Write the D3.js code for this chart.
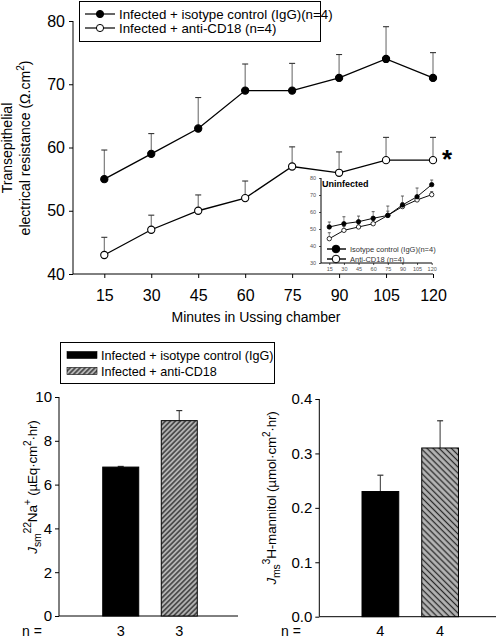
<!DOCTYPE html>
<html><head><meta charset="utf-8">
<script src="https://cdn.jsdelivr.net/npm/d3@7"></script>
<style>
html,body{margin:0;padding:0;background:#fff;}
svg{display:block;font-family:Arial,"Liberation Sans",Helvetica,sans-serif;}
</style></head><body>
<svg id="c" width="496" height="638"></svg>
<script>
// ---------- data ----------
const minutes = [15,30,45,60,75,90,105,120];
const iggMean  = [55,59,63,69,69,71,74,71];
const iggUpper = [59.6,62.2,67.9,73.2,73.3,74.7,79.1,75.0];
const antiMean  = [43,47,50,52,57,56,58,58];
const antiUpper = [45.8,49.3,52.5,54.7,60.1,59.3,61.6,61.6];
const yTicksTop = [40,50,60,70,80];
const seriesNames = ["Infected + isotype control (IgG)(n=4)","Infected + anti-CD18 (n=4)"];

const insetIggMean  = [51.2,53.1,54.3,56.3,58.0,64.1,69.0,76.1];
const insetIggUpper = [54.1,57.2,57.6,60.2,63.5,69.4,74.1,78.8];
const insetAntiMean  = [44.3,49.2,51.2,53.1,58.0,63.2,67.1,70.2];
const insetAntiUpper = [47.8,51.5,53.0,55.0,60.5,65.5,69.0,72.0];
const insetYTicks = [30,40,50,60,70,80];
const insetNames = ["Isotype control (IgG)(n=4)","Anti-CD18 (n=4)"];

const barGroups = ["Infected + isotype control (IgG)","Infected + anti-CD18"];
const naMean  = [6.8,8.92];
const naUpper = [6.83,9.38];
const naN = ["3","3"];
const naTicks = [0,2,4,6,8,10];
const manMean  = [0.23,0.31];
const manUpper = [0.26,0.36];
const manN = ["4","4"];
const manTicks = [0,0.1,0.2,0.3,0.4];

// ---------- setup ----------
const svg = d3.select("#c");
const defs = svg.append("defs");
function hatch(id, size, angle){
  const p = defs.append("pattern").attr("id",id).attr("patternUnits","userSpaceOnUse")
    .attr("width",size).attr("height",size).attr("patternTransform",`rotate(${angle})`);
  p.append("rect").attr("width",size).attr("height",size).attr("fill","#b4b4b4");
  p.append("line").attr("x1",size/2).attr("x2",size/2).attr("y1",0).attr("y2",size)
    .attr("stroke","#2a2a2a").attr("stroke-width",1.3);
}
hatch("h1",3.5,45);
hatch("h2",4.3,-45);

// ---------- top line chart ----------
const x = d3.scaleLinear().domain([5,120]).range([73,433]);
const y = d3.scaleLinear().domain([40,80]).range([274,21]);
const topG = svg.append("g");

const yAx = topG.append("g").attr("transform","translate(73,0)")
  .call(d3.axisLeft(y).tickValues(yTicksTop).tickSize(4).tickPadding(4));
yAx.selectAll("text").attr("font-size",16).attr("fill","#000");
const xAx = topG.append("g").attr("transform","translate(0,274)")
  .call(d3.axisBottom(x).tickValues(minutes).tickSize(4).tickPadding(12));
xAx.selectAll("text").attr("font-size",16).attr("fill","#000");
[yAx,xAx].forEach(a=>{a.select(".domain").attr("stroke","#000");a.selectAll("line").attr("stroke","#000");});
yAx.select(".domain").attr("d","M0,274V21");
xAx.select(".domain").attr("d","M73,0H433");

topG.append("text").attr("x",256).attr("y",322).attr("text-anchor","middle")
  .attr("font-size",14).text("Minutes in Ussing chamber");
topG.append("text").attr("transform","translate(12,148) rotate(-90)").attr("text-anchor","middle")
  .attr("font-size",14).text("Transepithelial");
const t2 = topG.append("text").attr("transform","translate(30,148) rotate(-90)").attr("text-anchor","middle")
  .attr("font-size",14);
t2.append("tspan").text("electrical resistance (\u03A9.cm");
t2.append("tspan").attr("dy",-6).attr("font-size",10).text("2");
t2.append("tspan").attr("dy",6).text(")");

function series(g, xs, ys, mean, upper, filled, r, lw, capW){
  const pts = minutes.map((m,i)=>({m, v:mean[i], u:upper[i]}));
  g.selectAll(null).data(pts).enter().append("line")
    .attr("x1",d=>xs(d.m)).attr("x2",d=>xs(d.m)).attr("y1",d=>ys(d.v)).attr("y2",d=>ys(d.u))
    .attr("stroke","#707070").attr("stroke-width",lw);
  g.selectAll(null).data(pts).enter().append("line")
    .attr("x1",d=>xs(d.m)-capW).attr("x2",d=>xs(d.m)+capW).attr("y1",d=>ys(d.u)).attr("y2",d=>ys(d.u))
    .attr("stroke","#333").attr("stroke-width",lw);
  g.append("path").datum(pts)
    .attr("d",d3.line().x(d=>xs(d.m)).y(d=>ys(d.v)))
    .attr("fill","none").attr("stroke","#000").attr("stroke-width",lw*1.2);
  g.selectAll(null).data(pts).enter().append("circle")
    .attr("cx",d=>xs(d.m)).attr("cy",d=>ys(d.v)).attr("r",r)
    .attr("fill",filled?"#000":"#fff").attr("stroke","#000").attr("stroke-width",lw);
}
series(topG.append("g"), x, y, antiMean, antiUpper, false, 3.6, 1.1, 3);
series(topG.append("g"), x, y, iggMean, iggUpper, true, 3.6, 1.1, 3);

topG.append("text").attr("x",442).attr("y",168).attr("font-size",26).attr("font-weight","bold").text("*");

const lg = topG.append("g");
lg.append("rect").attr("x",79.5).attr("y",1.5).attr("width",241).attr("height",40)
  .attr("fill","#fff").attr("stroke","#000");
seriesNames.forEach((n,i)=>{
  const yy = 14 + i*14;
  lg.append("line").attr("x1",85).attr("x2",115).attr("y1",yy).attr("y2",yy).attr("stroke","#000").attr("stroke-width",1.2);
  lg.append("circle").attr("cx",100).attr("cy",yy).attr("r",3.6)
    .attr("fill",i===0?"#000":"#fff").attr("stroke","#000");
  lg.append("text").attr("x",119).attr("y",yy+4.6).attr("font-size",13.3).text(n);
});

// ---------- inset ----------
const ix = d3.scaleLinear().domain([6.5,120]).range([321,431.7]);
const iy = d3.scaleLinear().domain([30,80]).range([263,178]);
const ins = svg.append("g");
const iyA = ins.append("g").attr("transform","translate(321,0)")
  .call(d3.axisLeft(iy).tickValues(insetYTicks).tickSize(2).tickPadding(3));
const ixA = ins.append("g").attr("transform","translate(0,263)")
  .call(d3.axisBottom(ix).tickValues(minutes).tickSize(2).tickPadding(2));
[iyA,ixA].forEach(a=>{
  a.selectAll("text").attr("font-size",5.5).attr("fill","#555");
  a.selectAll("line").attr("stroke","#000").attr("stroke-width",0.7);
  a.select(".domain").attr("stroke","#000").attr("stroke-width",1);
});
iyA.select(".domain").attr("d","M0,263V178");
ixA.select(".domain").attr("d","M321,0H432");
ins.append("text").attr("x",322).attr("y",187).attr("font-size",9).attr("font-weight","bold").text("Uninfected");
series(ins.append("g"), ix, iy, insetAntiMean, insetAntiUpper, false, 2.2, 0.8, 1.5);
series(ins.append("g"), ix, iy, insetIggMean, insetIggUpper, true, 2.2, 0.8, 1.5);
insetNames.forEach((n,i)=>{
  const yy = 249 + i*10;
  ins.append("line").attr("x1",327).attr("x2",346).attr("y1",yy).attr("y2",yy).attr("stroke","#000").attr("stroke-width",1.4);
  ins.append("circle").attr("cx",336).attr("cy",yy).attr("r",3.8)
    .attr("fill",i===0?"#000":"#fff").attr("stroke","#000").attr("stroke-width",1);
  ins.append("text").attr("x",350).attr("y",yy+2.7).attr("font-size",7.5).attr("fill","#333").text(n);
});

// ---------- bar charts ----------
function barChart(opts){
  const g = svg.append("g");
  const ys = d3.scaleLinear().domain(opts.domain).range([opts.y0,opts.y1]);
  const xs = d3.scaleBand().domain(barGroups).range(opts.xr).paddingInner(0.385).paddingOuter(opts.po);
  const ya = g.append("g").attr("transform",`translate(${opts.ax},0)`)
    .call(d3.axisLeft(ys).tickValues(opts.ticks).tickSize(4).tickPadding(3).tickFormat(opts.fmt));
  ya.selectAll("text").attr("font-size",15).attr("fill","#000");
  ya.selectAll("line").attr("stroke","#000");
  ya.select(".domain").attr("d",`M0,${opts.y0}V${opts.y1}`).attr("stroke","#000");
  g.append("line").attr("x1",opts.ax).attr("x2",opts.xEnd).attr("y1",opts.y0).attr("y2",opts.y0).attr("stroke","#000");
  const data = barGroups.map((k,i)=>({k, v:opts.mean[i], u:opts.upper[i], n:opts.n[i]}));
  g.selectAll(null).data(data).enter().append("line")
    .attr("x1",d=>xs(d.k)+xs.bandwidth()/2).attr("x2",d=>xs(d.k)+xs.bandwidth()/2)
    .attr("y1",d=>ys(d.v)).attr("y2",d=>ys(d.u)).attr("stroke","#555").attr("stroke-width",1.2);
  g.selectAll(null).data(data).enter().append("line")
    .attr("x1",d=>xs(d.k)+xs.bandwidth()/2-3).attr("x2",d=>xs(d.k)+xs.bandwidth()/2+3)
    .attr("y1",d=>ys(d.u)).attr("y2",d=>ys(d.u)).attr("stroke","#333").attr("stroke-width",1.2);
  g.selectAll(null).data(data).enter().append("rect")
    .attr("x",d=>xs(d.k)).attr("width",xs.bandwidth())
    .attr("y",d=>ys(d.v)).attr("height",d=>ys(0)-ys(d.v))
    .attr("fill",(d,i)=>i===0?"#000":`url(#${opts.pat})`).attr("stroke","#000").attr("stroke-width",1);
  g.selectAll(null).data(data).enter().append("text")
    .attr("x",d=>xs(d.k)+xs.bandwidth()/2).attr("y",636).attr("text-anchor","middle")
    .attr("font-size",14.5).text(d=>d.n);
  g.append("text").attr("x",opts.nx).attr("y",636).attr("font-size",14).text("n =");
  const t = g.append("text").attr("transform",`translate(${opts.tx},${opts.ty}) rotate(-90)`)
    .attr("text-anchor","middle").attr("font-size",13.5).attr("letter-spacing",-0.2);
  opts.title(t);
  return g;
}
barChart({domain:[0,10], y0:616, y1:397, ax:59, xEnd:238, xr:[59,241], po:0.747,
  ticks:naTicks, fmt:d3.format("d"), mean:naMean, upper:naUpper, n:naN, pat:"h1",
  nx:22, tx:37, ty:487,
  title:t=>{
    t.append("tspan").attr("font-style","italic").text("J");
    t.append("tspan").attr("dy",4).attr("font-size",10.5).text("sm");
    t.append("tspan").attr("dy",-10).attr("font-size",10.5).text("22");
    t.append("tspan").attr("dy",6).text("Na");
    t.append("tspan").attr("dy",-6).attr("font-size",10.5).text("+");
    t.append("tspan").attr("dy",6).text(" (\u00B5Eq\u00B7cm");
    t.append("tspan").attr("dy",-6).attr("font-size",10).text("2");
    t.append("tspan").attr("dy",6).text("\u00B7hr)");
  }});
barChart({domain:[0,0.4], y0:616.7, y1:399, ax:319.3, xEnd:496, xr:[319.3,501.2], po:0.715,
  ticks:manTicks, fmt:d3.format(".1f"), mean:manMean, upper:manUpper, n:manN, pat:"h2",
  nx:281, tx:276, ty:498,
  title:t=>{
    t.append("tspan").attr("font-style","italic").text("J");
    t.append("tspan").attr("dy",4).attr("font-size",10.5).text("ms");
    t.append("tspan").attr("dy",-10).attr("font-size",10.5).text("3");
    t.append("tspan").attr("dy",6).text("H-mannitol (\u00B5mol\u00B7cm");
    t.append("tspan").attr("dy",-6).attr("font-size",10).text("2");
    t.append("tspan").attr("dy",6).text("\u00B7hr)");
  }});

const bl = svg.append("g");
bl.append("rect").attr("x",60.5).attr("y",342.5).attr("width",214).attr("height",41)
  .attr("fill","#fff").attr("stroke","#000");
barGroups.forEach((n,i)=>{
  const yy = 355 + i*16;
  bl.append("rect").attr("x",67).attr("y",yy-3.5).attr("width",30).attr("height",7)
    .attr("fill",i===0?"#000":"url(#h1)").attr("stroke","#000").attr("stroke-width",0.6);
  bl.append("text").attr("x",101).attr("y",yy+4.6).attr("font-size",12.6).text(n);
});
</script>
</body></html>
